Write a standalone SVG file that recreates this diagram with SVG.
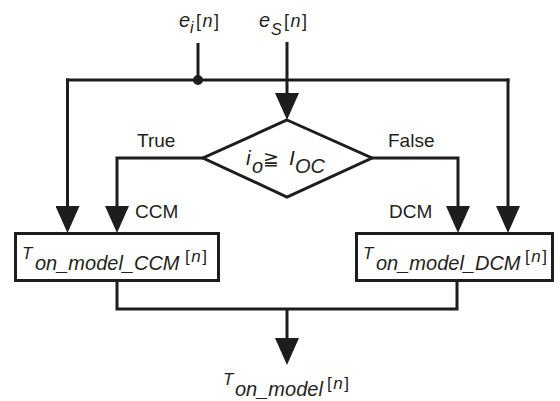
<svg xmlns="http://www.w3.org/2000/svg" width="560" height="401" viewBox="0 0 560 401">
  <style>
    .ln { fill: none; stroke: #1e1c1d; stroke-width: 3; }
    .box { fill: #ffffff; stroke: #1e1c1d; stroke-width: 3; }
    .dia { fill: #ffffff; stroke: #1e1c1d; stroke-width: 3; stroke-linejoin: miter; }
    text { font-family: "Liberation Sans", Arial, sans-serif; fill: #231f20; }
    .lbl { font-size: 19px; }
    .it { font-style: italic; }
    .big { font-size: 20px; font-style: italic; }
    .sm { font-size: 17px; font-style: italic; }
    .br { font-size: 17px; letter-spacing: 1.5px; }
  </style>
  <defs>
    <marker id="arrow" viewBox="0 0 27 24" refX="17" refY="12" markerWidth="27" markerHeight="24" markerUnits="userSpaceOnUse" orient="auto">
      <path d="M0,0 L27,12 L0,24 Z" fill="#1e1c1d"/>
    </marker>
  </defs>

  <!-- connectors -->
  <g id="connectors">
    <!-- input bus -->
    <line class="ln" x1="66" y1="80" x2="509.5" y2="80"/>
    <line class="ln" x1="198" y1="43" x2="198" y2="80"/>
    <circle cx="198" cy="80" r="5" fill="#1e1c1d"/>
    <line class="ln" x1="287" y1="42" x2="287" y2="110" marker-end="url(#arrow)"/>
    <line class="ln" x1="67.5" y1="78.5" x2="67.5" y2="223" marker-end="url(#arrow)"/>
    <line class="ln" x1="508" y1="78.5" x2="508" y2="223" marker-end="url(#arrow)"/>
    <!-- decision branches -->
    <polyline class="ln" points="204,158 117,158 117,223" marker-end="url(#arrow)"/>
    <polyline class="ln" points="371,158 458,158 458,223" marker-end="url(#arrow)"/>
    <!-- output merge -->
    <polyline class="ln" points="117,281 117,309 457,309 457,281"/>
    <line class="ln" x1="287" y1="309" x2="287" y2="355" marker-end="url(#arrow)"/>
  </g>

  <!-- inputs -->
  <g id="input-ei">
    <text x="179" y="27" class="big" style="font-size:20px">e</text>
    <text x="190" y="33" class="sm" style="font-size:16px">i</text>
    <text x="196" y="27" class="br" style="font-size:18px">[<tspan class="it">n</tspan>]</text>
  </g>
  <g id="input-es">
    <text x="259" y="27" class="big" style="font-size:20px">e</text>
    <text x="271" y="35" class="sm" style="font-size:16px">S</text>
    <text x="284" y="27" class="br" style="font-size:18px">[<tspan class="it">n</tspan>]</text>
  </g>

  <!-- decision -->
  <g id="decision">
    <polygon class="dia" points="287,120 372,158 287,197 203,158"/>
    <text x="246" y="165" class="big" style="font-size:21px">i</text>
    <text x="252" y="173" class="big">o</text>
    <text x="263" y="165" style="font-size:19px">≧</text>
    <text x="289" y="165" class="big" style="font-size:21px">I</text>
    <text x="295" y="173" class="big">OC</text>
    <text x="137" y="147" class="lbl">True</text>
    <text x="388" y="147" class="lbl">False</text>
    <text x="135" y="218" class="lbl">CCM</text>
    <text x="389" y="218" class="lbl">DCM</text>
  </g>

  <!-- CCM model block -->
  <g id="model-ccm">
    <rect class="box" x="15.5" y="233.5" width="203" height="47"/>
    <text x="22" y="259" class="sm">T</text>
    <text x="35" y="270" class="big">on_model_CCM</text>
    <text x="185" y="262" class="br">[<tspan class="it">n</tspan>]</text>
  </g>

  <!-- DCM model block -->
  <g id="model-dcm">
    <rect class="box" x="356.5" y="233.5" width="196" height="47"/>
    <text x="363" y="259" class="sm">T</text>
    <text x="376" y="270" class="big">on_model_DCM</text>
    <text x="525" y="262" class="br">[<tspan class="it">n</tspan>]</text>
  </g>

  <!-- output -->
  <g id="output">
    <text x="223" y="385" class="sm">T</text>
    <text x="235" y="396" class="big">on_model</text>
    <text x="327" y="389" class="br">[<tspan class="it">n</tspan>]</text>
  </g>
</svg>
